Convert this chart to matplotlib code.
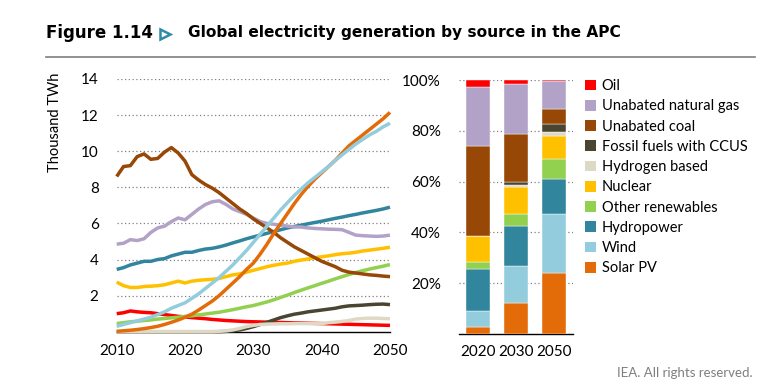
import matplotlib
matplotlib.use("Agg")
import matplotlib.pyplot as plt
from matplotlib.patches import Patch

# Data (thousand TWh), 2010-2050
years = list(range(2010, 2051))

coal = [8.6, 9.15, 9.2, 9.7, 9.85, 9.55, 9.6, 9.95, 10.2, 9.9,
        9.45, 8.7, 8.4, 8.15, 7.95, 7.7, 7.4, 7.1, 6.8, 6.55,
        6.25, 6.0, 5.75, 5.5, 5.2, 4.95, 4.7, 4.5, 4.3, 4.1,
        3.9, 3.75, 3.6, 3.4, 3.3, 3.25, 3.2, 3.15, 3.12, 3.08, 3.05]
gas = [4.85, 4.9, 5.1, 5.05, 5.15, 5.5, 5.75, 5.85, 6.1, 6.3,
       6.2, 6.5, 6.8, 7.05, 7.2, 7.25, 7.05, 6.8, 6.65, 6.5,
       6.3, 6.1, 6.0, 5.95, 5.9, 5.85, 5.8, 5.8, 5.75, 5.72,
       5.7, 5.68, 5.67, 5.65, 5.5, 5.35, 5.32, 5.3, 5.28, 5.3, 5.35]
hydro = [3.45, 3.55, 3.7, 3.8, 3.9, 3.9, 4.0, 4.05, 4.2, 4.3,
         4.4, 4.4, 4.5, 4.58, 4.62, 4.7, 4.8, 4.92, 5.03, 5.15,
         5.25, 5.35, 5.45, 5.55, 5.65, 5.75, 5.83, 5.9, 5.98, 6.05,
         6.12, 6.2, 6.28, 6.35, 6.43, 6.5, 6.58, 6.65, 6.72, 6.8, 6.9]
nuclear = [2.75, 2.55, 2.45, 2.45, 2.5, 2.52, 2.55, 2.6, 2.7, 2.8,
           2.7, 2.8, 2.85, 2.88, 2.9, 2.95, 3.05, 3.15, 3.2, 3.3,
           3.4, 3.5, 3.6, 3.68, 3.75, 3.8, 3.9, 3.97, 4.03, 4.1,
           4.15, 4.2, 4.27, 4.32, 4.35, 4.4, 4.47, 4.52, 4.57, 4.62, 4.68]
other_ren = [0.45, 0.5, 0.55, 0.58, 0.62, 0.65, 0.7, 0.73, 0.77, 0.8,
             0.85, 0.88, 0.93, 0.98, 1.03, 1.08, 1.15, 1.22, 1.3, 1.38,
             1.45, 1.55, 1.65, 1.77, 1.9, 2.03, 2.17, 2.3, 2.43, 2.55,
             2.68, 2.8, 2.93, 3.05, 3.17, 3.28, 3.38, 3.47, 3.55, 3.63, 3.72]
solar = [0.02, 0.05, 0.08, 0.12, 0.17, 0.23, 0.3, 0.4, 0.52, 0.65,
         0.8, 0.97, 1.2, 1.45, 1.7, 2.0, 2.35, 2.7, 3.05, 3.45,
         3.8, 4.3, 4.85, 5.45, 6.0, 6.55, 7.1, 7.6, 8.05, 8.45,
         8.8, 9.15, 9.5, 9.9, 10.3, 10.6, 10.9, 11.2, 11.5, 11.8, 12.15]
wind = [0.3, 0.4, 0.5, 0.6, 0.7, 0.8, 0.95, 1.1, 1.3, 1.45,
        1.6, 1.85, 2.1, 2.4, 2.7, 3.0, 3.35, 3.7, 4.1, 4.5,
        4.95, 5.4, 5.85, 6.3, 6.75, 7.15, 7.55, 7.9, 8.25, 8.55,
        8.85, 9.15, 9.5, 9.8, 10.1, 10.4, 10.65, 10.9, 11.1, 11.35, 11.55]
oil = [1.0, 1.05, 1.15, 1.1, 1.07, 1.05, 1.0, 0.95, 0.9, 0.85,
       0.82, 0.78, 0.75, 0.72, 0.68, 0.65, 0.62, 0.6, 0.58, 0.56,
       0.55, 0.54, 0.53, 0.52, 0.51, 0.5, 0.49, 0.48, 0.47, 0.46,
       0.45, 0.44, 0.43, 0.42, 0.41, 0.4, 0.39, 0.38, 0.37, 0.36, 0.35]
ccus = [0, 0, 0, 0, 0, 0, 0, 0, 0, 0,
        0, 0, 0, 0, 0, 0, 0.02, 0.05, 0.1, 0.18,
        0.28, 0.4, 0.52, 0.65, 0.78, 0.88, 0.97, 1.03, 1.1, 1.15,
        1.2, 1.25, 1.3, 1.38, 1.43, 1.45, 1.47, 1.5, 1.52, 1.53, 1.5]
hydrogen = [0, 0, 0, 0, 0, 0, 0, 0, 0, 0,
            0, 0, 0, 0, 0, 0.02, 0.05, 0.1, 0.18, 0.28,
            0.35, 0.4, 0.42, 0.43, 0.44, 0.44, 0.45, 0.45, 0.45, 0.45,
            0.45, 0.5, 0.53, 0.57, 0.62, 0.7, 0.73, 0.75, 0.75, 0.73, 0.72]

# Shares (%) for the stacked bars, bottom to top
bar_years = ["2020", "2030", "2050"]
share_solar = [2.9, 12.2, 24.1]
share_wind = [6.3, 14.6, 23.3]
share_hydro = [16.3, 15.9, 13.8]
share_other = [3.0, 4.5, 7.6]
share_nuclear = [10.2, 10.5, 9.0]
share_hydrogen = [0.0, 1.0, 1.6]
share_ccus = [0.0, 1.0, 3.1]
share_coal = [35.3, 19.2, 6.0]
share_gas = [23.4, 19.5, 11.0]
share_oil = [2.6, 1.6, 0.5]

names = ["Oil", "Unabated natural gas", "Unabated coal", "Fossil fuels with CCUS",
         "Hydrogen based", "Nuclear", "Other renewables", "Hydropower", "Wind", "Solar PV"]
colors = ["#FF0000", "#B3A2C7", "#974706", "#4A4530", "#DDD9C4",
          "#FFC000", "#92D050", "#31859C", "#93CDDD", "#E36C09"]

plt.rcParams["font.family"] = ["Lato", "DejaVu Sans"]

fig = plt.figure(figsize=(7.78, 3.9), dpi=100)

# Title
fig.text(46 / 778, 1 - 33 / 390, "Figure 1.14", fontsize=12, fontweight="heavy",
         family="DejaVu Sans", va="center", ha="left")
fig.add_artist(plt.Line2D([165 / 778], [1 - 34 / 390], marker=">", markersize=7,
                          markerfacecolor="white", markeredgecolor="#2E8CA8",
                          markeredgewidth=1.8, linestyle="none"))
fig.text(188 / 778, 1 - 33 / 390, "Global electricity generation by source in the APC",
         fontsize=11.1, fontweight="bold", family="DejaVu Sans", va="center", ha="left")
fig.add_artist(plt.Line2D([46 / 778, 755 / 778], [1 - 57 / 390, 1 - 57 / 390],
                          color="#7F7F7F", lw=1.2))

# Line chart
ax = fig.add_axes([116.7 / 778, (390 - 331.7) / 390, 273.3 / 778, 252.7 / 390])
series = [(oil, 0), (ccus, 3), (hydrogen, 4), (other_ren, 6), (nuclear, 5),
          (hydro, 7), (gas, 1), (coal, 2), (solar, 9), (wind, 8)]
for vals, ci in series:
    ax.plot(years, vals, color=colors[ci], lw=2.5, solid_capstyle="butt",
            clip_on=False, zorder=3)
ax.set_xlim(2010, 2050)
ax.set_ylim(0, 14)
ax.set_xticks([2010, 2020, 2030, 2040, 2050])
ax.set_yticks([2, 4, 6, 8, 10, 12, 14])
ax.grid(axis="y", linestyle=(0, (1, 2)), color="#808080", lw=0.9)
for s in ["top", "right", "left"]:
    ax.spines[s].set_visible(False)
ax.spines["bottom"].set_color("black")
ax.spines["bottom"].set_linewidth(1)
ax.tick_params(length=0, labelsize=11)
ax.tick_params(axis="y", pad=13)
ax.tick_params(axis="x", pad=9)
ax.set_ylabel("Thousand TWh", fontsize=10.5)
ax.yaxis.set_label_coords(-0.2, 0.83)

# Stacked bars
bx = fig.add_axes([459 / 778, (390 - 334) / 390, 114 / 778, 254 / 390])
stack = [share_solar, share_wind, share_hydro, share_other, share_nuclear,
         share_hydrogen, share_ccus, share_coal, share_gas, share_oil]
stack_colors = colors[::-1]
bottom = [0, 0, 0]
pos = [0, 1, 2]
for vals, c in zip(stack, stack_colors):
    bx.bar(pos, vals, bottom=bottom, width=0.63, color=c, edgecolor="white",
           linewidth=0.3, zorder=3)
    bottom = [b + v for b, v in zip(bottom, vals)]
bx.set_xlim(-0.5, 2.5)
bx.set_ylim(0, 100)
bx.set_xticks(pos)
bx.set_xticklabels(bar_years)
bx.set_yticks([20, 40, 60, 80, 100])
bx.set_yticklabels(["20%", "40%", "60%", "80%", "100%"])
bx.grid(axis="y", linestyle=(0, (1, 2)), color="#808080", lw=0.9)
for s in ["top", "right", "left"]:
    bx.spines[s].set_visible(False)
bx.spines["bottom"].set_linewidth(1)
bx.tick_params(length=0, labelsize=11)
bx.tick_params(axis="y", pad=13)
bx.tick_params(axis="x", pad=8)

handles = [Patch(facecolor=c, edgecolor="none") for c in colors]
fig.legend(handles, names, loc="upper left", bbox_to_anchor=(585 / 778, 1 - 79 / 390),
           frameon=False, fontsize=10.5, handlelength=0.75, handleheight=0.75,
           handletextpad=0.4, labelspacing=0.43, borderpad=0, borderaxespad=0)

fig.text(753 / 778, 1 - 373 / 390, "IEA. All rights reserved.", fontsize=9.5,
         color="#7F7F7F", ha="right", va="center")

fig.savefig("out.png", dpi=100)
